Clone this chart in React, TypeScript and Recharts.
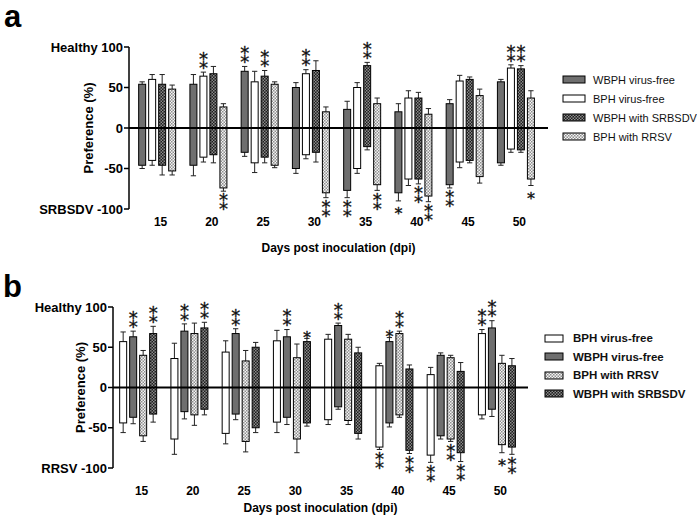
import React from 'react';
import { BarChart, Bar, XAxis, YAxis, ReferenceLine, Legend } from 'recharts';

const FONT = '"Liberation Sans", Arial, sans-serif';
const STAR_FONT = '"DejaVu Sans", "Noto Sans", sans-serif';

const DAYS = ['15', '20', '25', '30', '35', '40', '45', '50'];

// panel a (SRBSDV): % choosing healthy plants (up) / infected plants (down)
// err = [up, down] SEM, sig: '**' above, '_**' below
const A_WBPH_FREE_UP = [54, 54, 70, 50, 23, 20, 30, 57];
const A_WBPH_FREE_DOWN = [-46, -46, -30, -50, -77, -80, -70, -43];
const A_WBPH_FREE_ERR = [[3, 4], [12, 13], [6, 5], [6, 6], [10, 9], [10, 10], [5, 4], [3, 3]];
const A_WBPH_FREE_SIG = ['', '', '**', '', '_**', '_*', '_**', ''];

const A_BPH_FREE_UP = [60, 64, 57, 67, 50, 37, 58, 74];
const A_BPH_FREE_DOWN = [-40, -36, -43, -33, -50, -63, -42, -26];
const A_BPH_FREE_ERR = [[6, 6], [5, 6], [13, 12], [5, 5], [6, 6], [9, 8], [7, 7], [4, 4]];
const A_BPH_FREE_SIG = ['', '**', '', '**', '', '', '', '**'];

const A_WBPH_SRBSDV_UP = [54, 67, 64, 71, 77, 37, 60, 73];
const A_WBPH_SRBSDV_DOWN = [-46, -33, -36, -30, -23, -63, -40, -27];
const A_WBPH_SRBSDV_ERR = [[12, 12], [9, 10], [7, 7], [12, 12], [4, 4], [7, 6], [3, 3], [4, 3]];
const A_WBPH_SRBSDV_SIG = ['', '', '**', '', '**', '_**', '', '**'];

const A_BPH_RRSV_UP = [48, 26, 54, 20, 30, 17, 40, 37];
const A_BPH_RRSV_DOWN = [-53, -74, -46, -80, -70, -84, -60, -63];
const A_BPH_RRSV_ERR = [[5, 5], [4, 4], [3, 3], [6, 6], [7, 7], [7, 7], [8, 8], [9, 8]];
const A_BPH_RRSV_SIG = ['', '_**', '', '_**', '_**', '_**', '', '_*'];

// panel b (RRSV)
const B_BPH_FREE_UP = [57, 36, 44, 58, 60, 27, 16, 67];
const B_BPH_FREE_DOWN = [-44, -64, -57, -43, -40, -74, -84, -34];
const B_BPH_FREE_ERR = [[12, 12], [19, 19], [14, 13], [13, 13], [6, 6], [3, 3], [9, 9], [5, 5]];
const B_BPH_FREE_SIG = ['', '', '', '', '', '_**', '_**', '**'];

const B_WBPH_FREE_UP = [63, 70, 67, 63, 77, 57, 40, 74];
const B_WBPH_FREE_DOWN = [-37, -30, -33, -37, -24, -44, -60, -27];
const B_WBPH_FREE_ERR = [[7, 8], [9, 9], [6, 7], [9, 9], [3, 3], [5, 5], [3, 4], [9, 9]];
const B_WBPH_FREE_SIG = ['**', '**', '**', '**', '**', '*', '', '**'];

const B_BPH_RRSV_UP = [40, 67, 33, 37, 60, 67, 37, 30];
const B_BPH_RRSV_DOWN = [-60, -34, -67, -64, -41, -34, -64, -71];
const B_BPH_RRSV_ERR = [[6, 7], [13, 13], [13, 13], [17, 17], [6, 5], [3, 3], [3, 3], [10, 10]];
const B_BPH_RRSV_SIG = ['', '', '', '', '', '**', '_**', '_*'];

const B_WBPH_SRBSDV_UP = [67, 74, 50, 57, 43, 23, 20, 27];
const B_WBPH_SRBSDV_DOWN = [-33, -27, -50, -44, -57, -78, -81, -74];
const B_WBPH_SRBSDV_ERR = [[9, 10], [7, 7], [6, 6], [4, 4], [7, 7], [5, 4], [11, 11], [9, 9]];
const B_WBPH_SRBSDV_SIG = ['**', '**', '', '*', '', '_**', '_**', '_**'];

const GRAY = '#6f6f6f';

type Series = {
  key: string;
  name: string;
  up: number[];
  down: number[];
  err: number[][];
  sig: string[];
  fill: string;
};

const seriesA: Series[] = [
  { key: 'wf', name: 'WBPH virus-free', up: A_WBPH_FREE_UP, down: A_WBPH_FREE_DOWN, err: A_WBPH_FREE_ERR, sig: A_WBPH_FREE_SIG, fill: GRAY },
  { key: 'bf', name: 'BPH virus-free', up: A_BPH_FREE_UP, down: A_BPH_FREE_DOWN, err: A_BPH_FREE_ERR, sig: A_BPH_FREE_SIG, fill: '#ffffff' },
  { key: 'ws', name: 'WBPH with SRBSDV', up: A_WBPH_SRBSDV_UP, down: A_WBPH_SRBSDV_DOWN, err: A_WBPH_SRBSDV_ERR, sig: A_WBPH_SRBSDV_SIG, fill: 'url(#darkChkA)' },
  { key: 'br', name: 'BPH with RRSV', up: A_BPH_RRSV_UP, down: A_BPH_RRSV_DOWN, err: A_BPH_RRSV_ERR, sig: A_BPH_RRSV_SIG, fill: 'url(#lightChkA)' },
];

const seriesB: Series[] = [
  { key: 'bf', name: 'BPH virus-free', up: B_BPH_FREE_UP, down: B_BPH_FREE_DOWN, err: B_BPH_FREE_ERR, sig: B_BPH_FREE_SIG, fill: '#ffffff' },
  { key: 'wf', name: 'WBPH virus-free', up: B_WBPH_FREE_UP, down: B_WBPH_FREE_DOWN, err: B_WBPH_FREE_ERR, sig: B_WBPH_FREE_SIG, fill: GRAY },
  { key: 'br', name: 'BPH with RRSV', up: B_BPH_RRSV_UP, down: B_BPH_RRSV_DOWN, err: B_BPH_RRSV_ERR, sig: B_BPH_RRSV_SIG, fill: 'url(#lightChkB)' },
  { key: 'ws', name: 'WBPH with SRBSDV', up: B_WBPH_SRBSDV_UP, down: B_WBPH_SRBSDV_DOWN, err: B_WBPH_SRBSDV_ERR, sig: B_WBPH_SRBSDV_SIG, fill: 'url(#darkChkB)' },
];

const buildRows = (series: Series[]) =>
  DAYS.map((day, i) => {
    const row: any = { day };
    series.forEach(s => {
      row[s.key] = [s.down[i], s.up[i]];
    });
    return row;
  });

const Patterns = ({ id }: { id: string }) => (
  <defs>
    <pattern id={`darkChk${id}`} width="3" height="3" patternUnits="userSpaceOnUse">
      <rect width="3" height="3" fill="#1e1e1e" />
      <rect x="0" y="0" width="1.5" height="1.5" fill="#8a8a8a" />
      <rect x="1.5" y="1.5" width="1.5" height="1.5" fill="#8a8a8a" />
    </pattern>
    <pattern id={`lightChk${id}`} width="3" height="3" patternUnits="userSpaceOnUse">
      <rect width="3" height="3" fill="#f4f4f4" />
      <rect x="0" y="0" width="1.5" height="1.5" fill="#8f8f8f" />
      <rect x="1.5" y="1.5" width="1.5" height="1.5" fill="#8f8f8f" />
    </pattern>
  </defs>
);

// bar rectangle + one-sided error whiskers + significance mark
const BarShape = (props: any) => {
  const { x, y, width, height, s, index } = props;
  const i = index ?? DAYS.indexOf(props.payload?.day);
  const h = Math.abs(height);
  const top = height >= 0 ? y : y + height;
  const bot = top + h;
  const k = h / (s.up[i] - s.down[i]);
  const [eu, ed] = s.err[i];
  const cx = x + width / 2;
  const cap = width * 0.38;
  const yT = top - eu * k;
  const yB = bot + ed * k;
  const sig: string = s.sig[i];
  const below = sig.startsWith('_');
  const n = sig.replace('_', '').length;
  let mark = null;
  if (n === 2) {
    // "⁑" = two asterisks stacked vertically
    const cy = below ? yB + 12.5 : yT - 10;
    mark = (
      <text x={cx} y={cy + 6.8} textAnchor="middle" fontSize={18} fontFamily={STAR_FONT} fill="#111" stroke="#111" strokeWidth={0.35}>
        {'\u2051'}
      </text>
    );
  } else if (n === 1) {
    const cy = below ? yB + 8 : yT - 6;
    mark = (
      <text x={cx} y={cy + 10.5} textAnchor="middle" fontSize={16} fontFamily={STAR_FONT} fill="#111" stroke="#111" strokeWidth={0.35}>
        *
      </text>
    );
  }
  return (
    <g>
      <line x1={cx} x2={cx} y1={yT} y2={top} stroke="#222" strokeWidth={1} />
      <line x1={cx - cap} x2={cx + cap} y1={yT} y2={yT} stroke="#222" strokeWidth={1} />
      <line x1={cx} x2={cx} y1={bot} y2={yB} stroke="#222" strokeWidth={1} />
      <line x1={cx - cap} x2={cx + cap} y1={yB} y2={yB} stroke="#222" strokeWidth={1} />
      <rect x={x} y={top} width={width} height={h} fill={s.fill} stroke="#000" strokeWidth={1} />
      {mark}
    </g>
  );
};

const YTick = ({ x, y, payload, topName, botName }: any) => {
  const v = payload.value;
  const label = v === 100 ? `${topName} 100` : v === -100 ? `${botName} -100` : String(v);
  return (
    <text x={x} y={y} dy={4.6} textAnchor="end" fontSize={13} fontWeight="bold" fontFamily={FONT} fill="#000">
      {label}
    </text>
  );
};

const XTick = ({ x, y, payload }: any) => (
  <text x={x + 3} y={y} dy={9} textAnchor="middle" fontSize={12} fontWeight="bold" fontFamily={FONT} fill="#000">
    {payload.value}
  </text>
);

const LegendBox = ({ series, bold, swW, rowH, gap }: any) => (
  <div style={{ fontFamily: FONT, fontSize: bold ? 11.5 : 11, fontWeight: bold ? 'bold' : 'normal', color: '#111' }}>
    {series.map((s: Series) => (
      <div key={s.key} style={{ display: 'flex', alignItems: 'center', height: rowH, whiteSpace: 'nowrap' }}>
        <svg width={swW + 2} height={9} style={{ display: 'block' }}>
          <rect x={1} y={1} width={swW} height={7} fill={s.fill} stroke="#000" strokeWidth={1} />
        </svg>
        <span style={{ marginLeft: gap }}>{s.name}</span>
      </div>
    ))}
  </div>
);

type PanelProps = {
  series: Series[];
  id: string;
  axisX: number;
  height: number;
  xAxisH: number;
  tickGap: number;
  titleOffset: number;
  padL: number;
  padR: number;
  lineEnd: number;
  botName: string;
  labelX: number;
  legendLeft: number;
  legendTop: number;
  legendRowH: number;
  legendSwW: number;
  legendGap: number;
  bold: boolean;
};

const Panel = (p: PanelProps) => (
  <BarChart
    width={697}
    height={p.height}
    data={buildRows(p.series)}
    margin={{ top: 47, right: 697 - p.lineEnd, left: 0, bottom: 0 }}
    barCategoryGap="13%"
    barGap={3}
  >
    <Patterns id={p.id} />
    <XAxis
      dataKey="day"
      axisLine={false}
      tickLine={false}
      tickSize={6}
      tickMargin={p.tickGap}
      height={p.xAxisH}
      padding={{ left: p.padL, right: p.padR }}
      tick={<XTick />}
      interval={0}
      label={{
        value: 'Days post inoculation (dpi)',
        position: 'insideBottom',
        offset: p.titleOffset,
        style: { fontSize: 12, fontWeight: 'bold', fontFamily: FONT, fill: '#000' },
      }}
    />
    <YAxis
      width={p.axisX}
      domain={[-100, 100]}
      ticks={[-100, -50, 0, 50, 100]}
      interval={0}
      axisLine={{ stroke: '#000', strokeWidth: 1.5 }}
      tickLine={{ stroke: '#000', strokeWidth: 1.5 }}
      tickSize={5}
      tickMargin={1}
      tick={<YTick topName="Healthy" botName={p.botName} />}
      label={{
        value: 'Preference (%)',
        angle: -90,
        position: 'insideLeft',
        offset: p.labelX,
        style: { textAnchor: 'middle', fontSize: 13, fontWeight: 'bold', fontFamily: FONT, fill: '#000' },
      }}
    />
    {p.series.map(s => (
      <Bar
        key={s.key}
        dataKey={s.key}
        name={s.name}
        fill={s.fill}
        isAnimationActive={false}
        shape={(bp: any) => <BarShape {...bp} s={s} />}
      />
    ))}
    <ReferenceLine y={0} stroke="#000" strokeWidth={2} ifOverflow="extendDomain" />
    <Legend
      layout="horizontal"
      verticalAlign="middle"
      align="center"
      wrapperStyle={{ left: p.legendLeft, top: p.legendTop, width: 150, height: 80 }}
      content={() => (
        <LegendBox series={p.series} bold={p.bold} swW={p.legendSwW} rowH={p.legendRowH} gap={p.legendGap} />
      )}
    />
  </BarChart>
);

const panelLetter: React.CSSProperties = {
  position: 'absolute',
  fontFamily: FONT,
  fontWeight: 'bold',
  fontSize: 31,
  lineHeight: '34px',
};

export default function App() {
  return (
    <div style={{ position: 'absolute', left: 0, top: 0, width: 697, height: 515, background: '#fff' }}>
      <div style={{ ...panelLetter, left: 4, top: 0 }}>a</div>
      <div style={{ ...panelLetter, left: 3, top: 270 }}>b</div>
      <div style={{ position: 'absolute', left: 0, top: 0 }}>
        <Panel
          series={seriesA}
          id="A"
          axisX={129}
          height={260}
          xAxisH={51}
          tickGap={2}
          titleOffset={8}
          padL={3}
          padR={6}
          lineEnd={548}
          botName="SRBSDV"
          labelX={88}
          legendLeft={562}
          legendTop={70}
          legendRowH={19}
          legendSwW={22}
          legendGap={7}
          bold={false}
        />
      </div>
      <div style={{ position: 'absolute', left: 0, top: 260 }}>
        <Panel
          series={seriesB}
          id="B"
          axisX={113}
          height={255}
          xAxisH={47}
          tickGap={12}
          titleOffset={3}
          padL={0}
          padR={5}
          lineEnd={528}
          botName="RRSV"
          labelX={80}
          legendLeft={544}
          legendTop={69}
          legendRowH={18.5}
          legendSwW={18}
          legendGap={9}
          bold={true}
        />
      </div>
    </div>
  );
}
